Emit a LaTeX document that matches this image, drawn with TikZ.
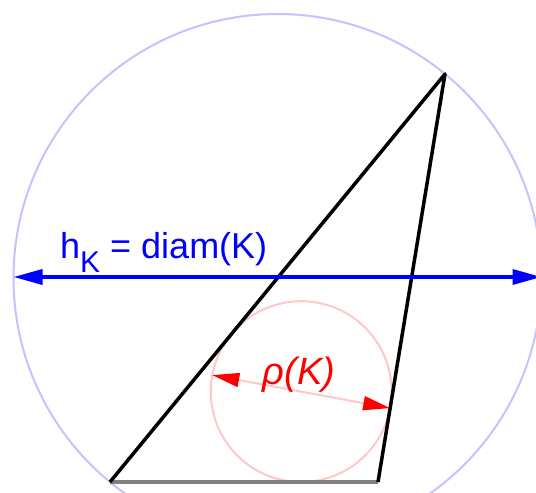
\documentclass[tikz,border=0pt]{standalone}
\usepackage{fontspec}
\setmainfont{Liberation Sans}
\usetikzlibrary{arrows.meta}
\definecolor{bleuclair}{RGB}{195,195,255}
\definecolor{rosepale}{RGB}{255,200,200}
\definecolor{gristrait}{RGB}{128,128,128}
\tikzset{
	cote/.style={line width=3.5pt, {Triangle[length=29pt,width=15pt]}-{Triangle[length=29pt,width=15pt]}},
	cotein/.style={line width=2pt, rosepale, {Triangle[length=27pt,width=14pt,color=red]}-{Triangle[length=27pt,width=14pt,color=red]}}
}
\begin{document}
\begin{tikzpicture}[x=1pt, y=-1pt]
			\useasboundingbox (0,0) rectangle (536,493);
			\clip (0,0) rectangle (536,493);
			%Sommets du triangle
			\coordinate (A) at (110,482);
			\coordinate (B) at (378,482);
			\coordinate (C) at (445,74);
			%Centres des cercles
			\coordinate (O) at (277.5,278);
			\coordinate (I) at (301.2,391.6);
			%Extremites des cotes
			\coordinate (D1) at (13.5,277);
			\coordinate (D2) at (541.5,277);
			\coordinate (R1) at (212.3,375.1);
			\coordinate (R2) at (390.1,408.1);
			%Cercles
			\draw[bleuclair, line width=2pt] (O) circle (264);
			\draw[rosepale, line width=2pt] (I) circle (90.4);
			%Aretes du triangle
			\draw[gristrait, line width=3.5pt] (A) -- (B);
			\draw[line width=3.5pt, line join=round] (B) -- (C) -- (A);
			%Diametres
			\draw[blue, cote] (D1) -- (D2);
			\draw[cotein] (R1) -- (R2);
			%Etiquettes
			\node[blue, anchor=base west, inner sep=0pt] (hK) at (60,258) {\fontsize{36}{40}\selectfont h\raisebox{-14pt}{\fontsize{30}{32}\selectfont K} = diam(K)};
			\node[red, inner sep=0pt] (rhoK) at (299,375) {\fontsize{38}{42}\selectfont\itshape ρ(K)};
		\end{tikzpicture}
\end{document}
